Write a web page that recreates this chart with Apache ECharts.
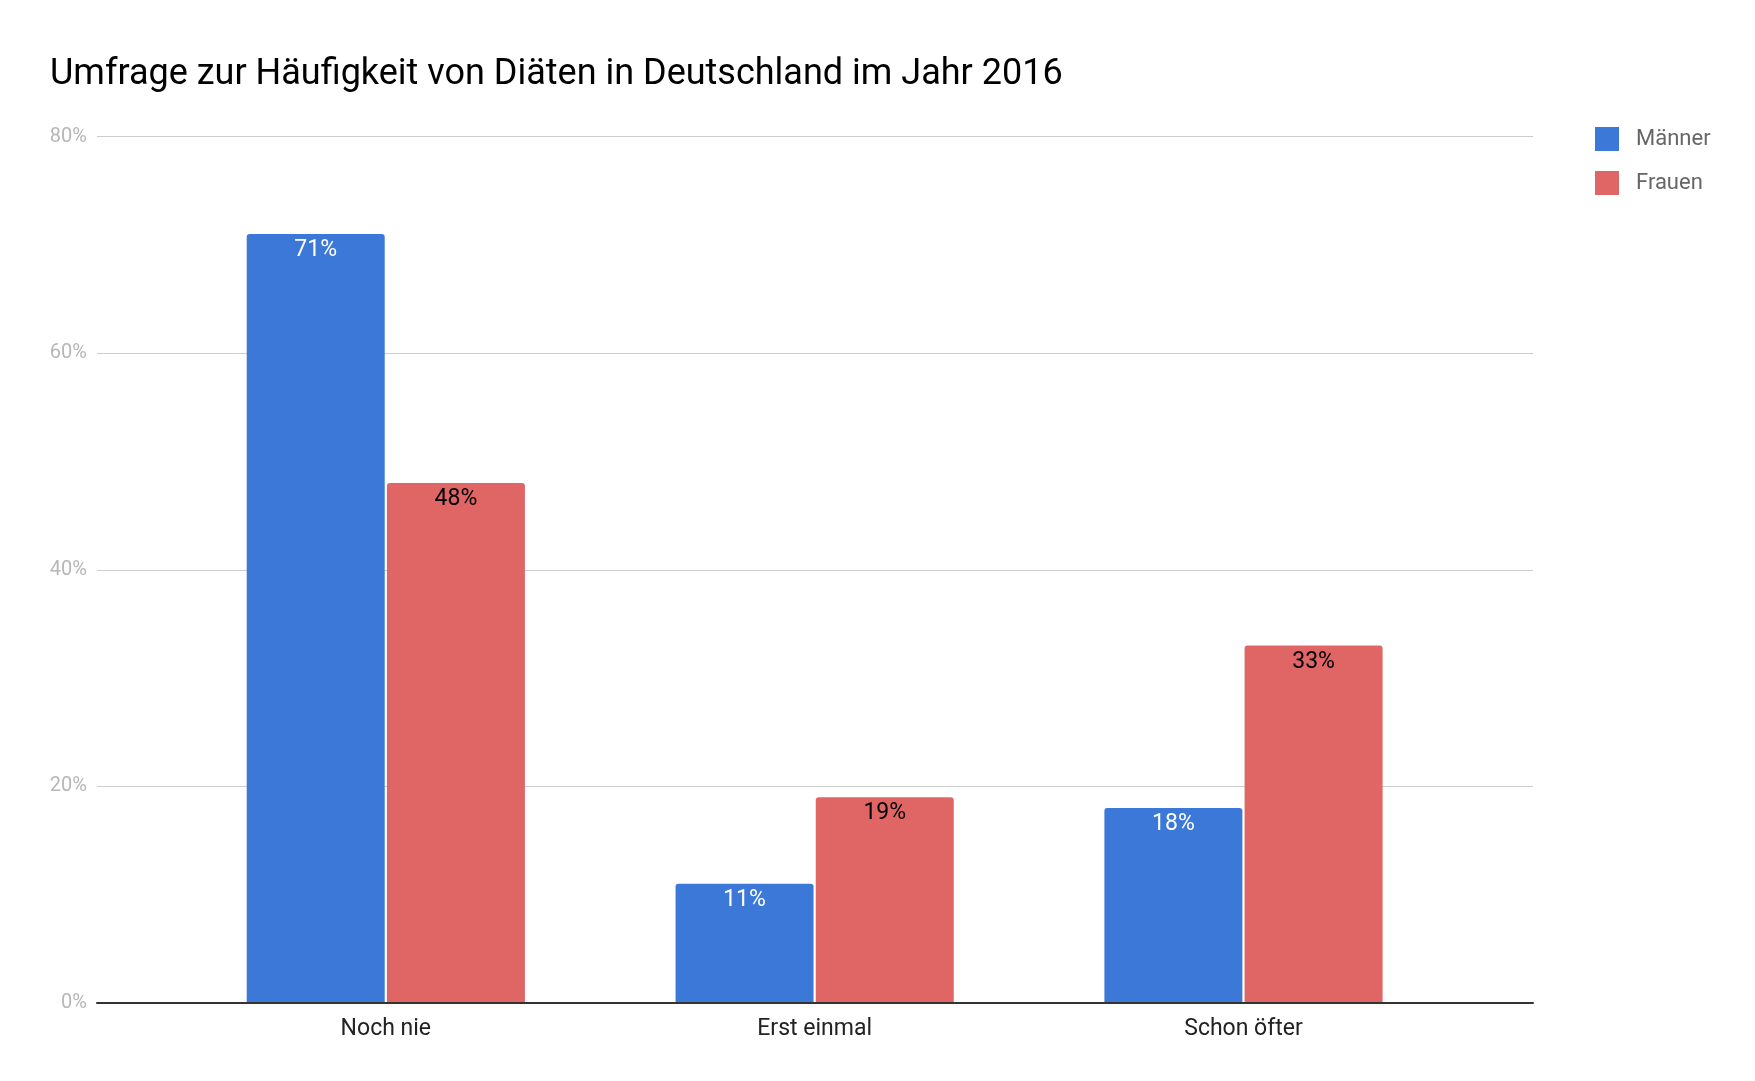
<!DOCTYPE html>
<html>
<head>
<meta charset="utf-8">
<script src="https://cdn.jsdelivr.net/npm/echarts@6/dist/echarts.min.js"></script>
<style>
html,body{margin:0;padding:0;background:#fff;}
#chart{width:1755px;height:1081px;}
</style>
</head>
<body>
<div id="chart"></div>
<script>
const titleText = 'Umfrage zur Häufigkeit von Diäten in Deutschland im Jahr 2016';
const categories = ['Noch nie', 'Erst einmal', 'Schon öfter'];
const seriesNames = ['Männer', 'Frauen'];
const maenner = [71, 11, 18];
const frauen = [48, 19, 33];
const yTicks = { min: 0, max: 80, interval: 20 };

const FONT = 'Roboto';
const chart = echarts.init(document.getElementById('chart'));
chart.setOption({
  animation: false,
  backgroundColor: '#ffffff',
  textStyle: { fontFamily: FONT },
  title: {
    text: titleText,
    left: 45,
    top: 52,
    textStyle: { fontFamily: FONT, fontSize: 36, fontWeight: 'normal', color: '#000000' }
  },
  legend: {
    orient: 'vertical',
    left: 1590,
    top: 122,
    itemWidth: 24,
    itemHeight: 24,
    itemGap: 20,
    icon: 'rect',
    textStyle: { fontFamily: FONT, fontSize: 22, color: '#666666', padding: [0, 0, 0, 12] },
    data: seriesNames
  },
  grid: [
    { left: 97, right: 222, top: 136.5, bottom: 78 },
    { left: 171.4, right: 297.1, top: 136.5, bottom: 78 }
  ],
  xAxis: [
    {
      gridIndex: 0, type: 'category', data: [''],
      axisLine: { show: true, lineStyle: { color: '#333333', width: 2 } },
      axisTick: { show: false }, axisLabel: { show: false }, splitLine: { show: false },
      z: 5
    },
    {
      gridIndex: 1, type: 'category', data: categories,
      axisLine: { show: false }, axisTick: { show: false },
      axisLabel: { fontFamily: FONT, fontSize: 23, color: '#222222', margin: 15 }
    }
  ],
  yAxis: [
    {
      gridIndex: 0, type: 'value', min: yTicks.min, max: yTicks.max, interval: yTicks.interval,
      axisLine: { show: false }, axisTick: { show: false },
      axisLabel: { fontFamily: FONT, fontSize: 20, color: '#b7b7b7', margin: 10, formatter: '{value}%' },
      splitLine: { show: true, lineStyle: { color: '#cccccc', width: 1 } }
    },
    {
      gridIndex: 1, type: 'value', min: yTicks.min, max: yTicks.max, interval: yTicks.interval,
      show: false, splitLine: { show: false }
    }
  ],
  series: [
    {
      name: seriesNames[0], type: 'bar', xAxisIndex: 1, yAxisIndex: 1,
      data: maenner, barWidth: 138, barGap: '1.6%',
      itemStyle: { color: '#3c78d8', borderRadius: [3, 3, 0, 0] },
      label: { show: true, position: 'insideTop', distance: 5, formatter: '{c}%',
        fontFamily: FONT, fontSize: 23, color: '#ffffff' }
    },
    {
      name: seriesNames[1], type: 'bar', xAxisIndex: 1, yAxisIndex: 1,
      data: frauen, barWidth: 138,
      itemStyle: { color: '#e06666', borderRadius: [3, 3, 0, 0] },
      label: { show: true, position: 'insideTop', distance: 5, formatter: '{c}%',
        fontFamily: FONT, fontSize: 23, color: '#000000' }
    }
  ]
});
</script>
</body>
</html>
